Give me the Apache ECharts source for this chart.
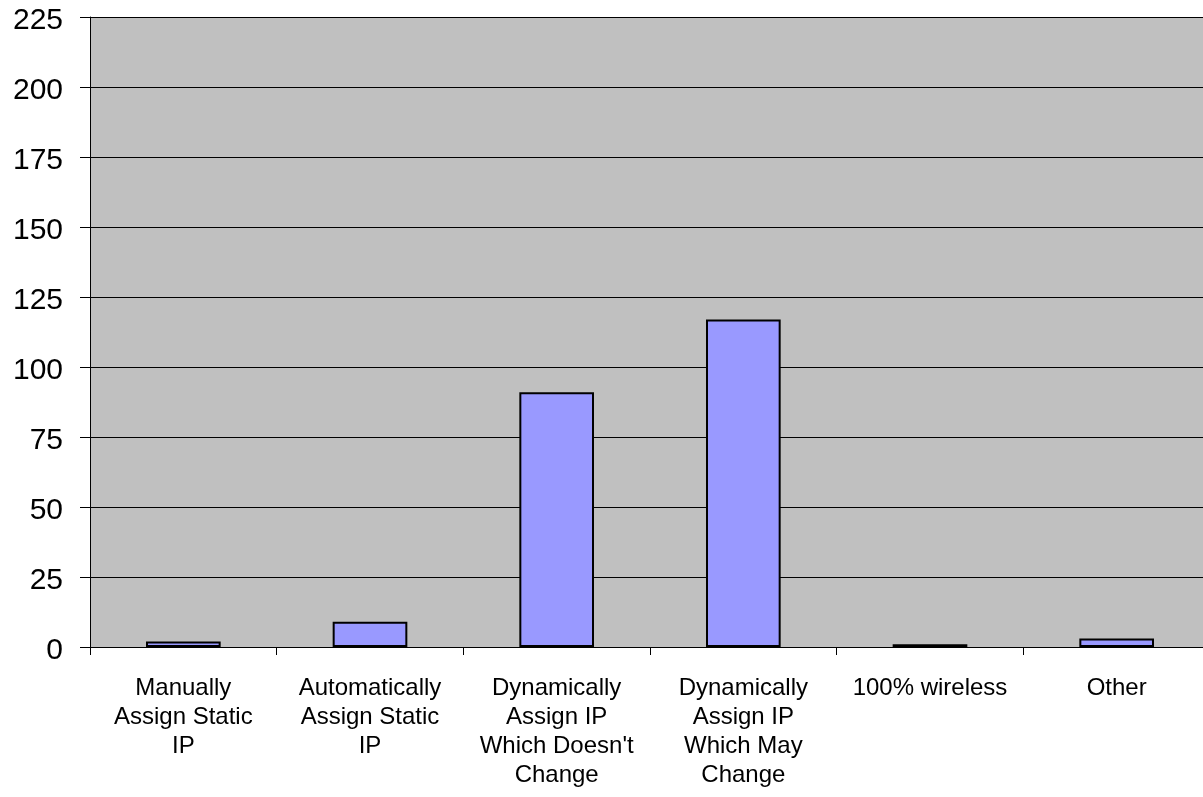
<!DOCTYPE html>
<html>
<head>
<meta charset="utf-8">
<script src="https://cdn.jsdelivr.net/npm/echarts@6/dist/echarts.min.js"></script>
<style>
  html, body { margin: 0; padding: 0; background: #ffffff; overflow: hidden; width: 1203px; height: 797px; }
  #chart { width: 1210px; height: 797px; }
</style>
</head>
<body>
<div id="chart"></div>
<script>
const categories = [
  "Manually\nAssign Static\nIP",
  "Automatically\nAssign Static\nIP",
  "Dynamically\nAssign IP\nWhich Doesn't\nChange",
  "Dynamically\nAssign IP\nWhich May\nChange",
  "100% wireless",
  "Other"
];
const values = [2, 9, 91, 117, 1, 3];
const yMin = 0;
const yMax = 225;
const yStep = 25;

const chart = echarts.init(document.getElementById('chart'), null, { renderer: 'canvas' });
const font = "'Liberation Sans', Arial, sans-serif";
chart.setOption({
  animation: false,
  backgroundColor: '#ffffff',
  grid: {
    show: true,
    left: 90,
    top: 17,
    right: 0,
    bottom: 150,
    backgroundColor: '#C0C0C0',
    borderWidth: 0,
    containLabel: false
  },
  xAxis: {
    type: 'category',
    data: categories,
    axisLine: { show: true, lineStyle: { color: '#000000', width: 1 } },
    axisTick: { show: true, length: 8, alignWithLabel: false, lineStyle: { color: '#000000' } },
    axisLabel: {
      interval: 0,
      margin: 27,
      color: '#000000',
      fontSize: 24,
      lineHeight: 29,
      fontFamily: font,
      align: 'center'
    },
    splitLine: { show: false }
  },
  yAxis: {
    type: 'value',
    min: yMin,
    max: yMax,
    interval: yStep,
    axisLine: { show: true, lineStyle: { color: '#000000', width: 1 } },
    axisTick: { show: true, length: 10, lineStyle: { color: '#000000' } },
    axisLabel: {
      margin: 27,
      color: '#000000',
      fontSize: 30,
      fontFamily: font,
      formatter: '{v|{value}}',
      rich: {
        v: { fontSize: 30, fontFamily: font, color: '#000000', padding: [8, 0, 0, 0] }
      }
    },
    splitLine: { show: true, lineStyle: { color: '#000000', width: 1 } }
  },
  series: [{
    type: 'bar',
    data: values,
    barWidth: '40%',
    itemStyle: {
      color: '#9999FF',
      borderColor: '#000000',
      borderWidth: 2
    }
  }]
});
</script>
</body>
</html>
